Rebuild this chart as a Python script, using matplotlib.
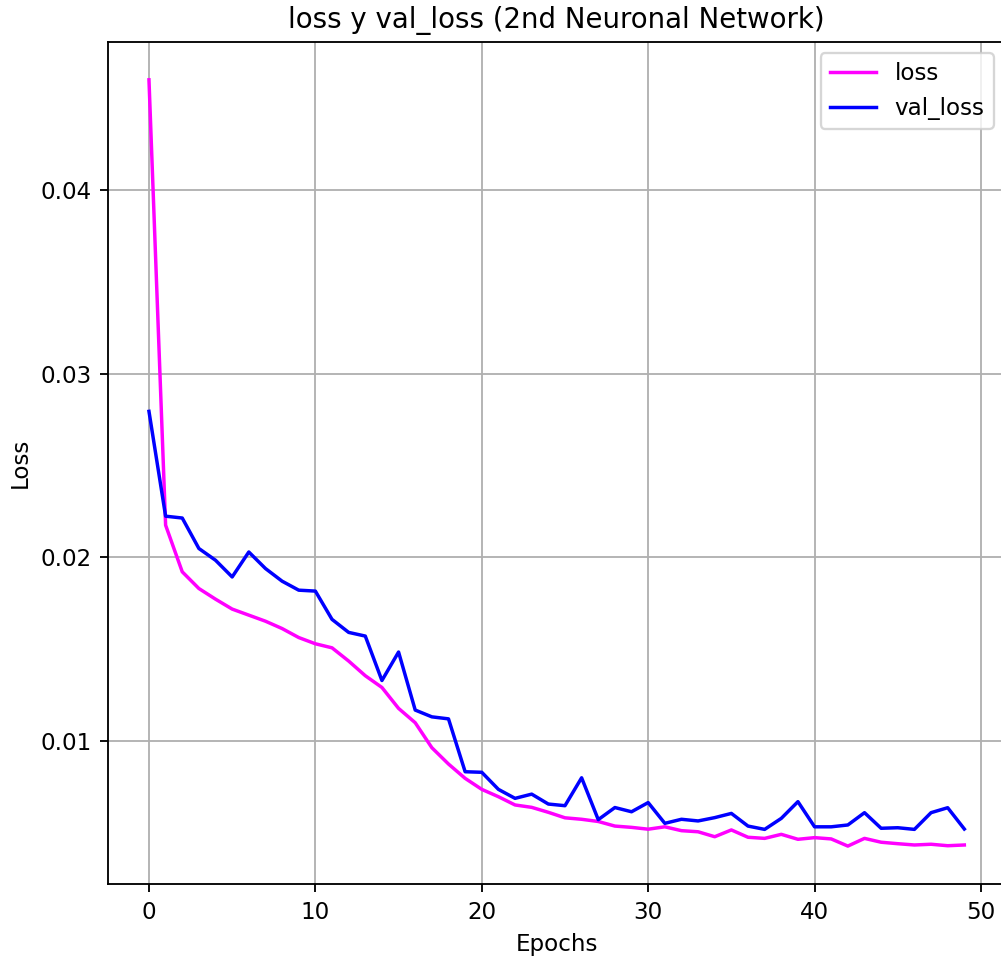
import matplotlib
matplotlib.use("Agg")
import matplotlib.pyplot as plt

epochs = list(range(50))

loss = [
    0.04602, 0.02176, 0.01922, 0.01831, 0.01773, 0.01719, 0.01686, 0.01653, 0.01613, 0.01564,
    0.01530, 0.01508, 0.01436, 0.01356, 0.01292, 0.01178, 0.01100, 0.00964, 0.00875, 0.00797,
    0.00737, 0.00697, 0.00652, 0.00639, 0.00612, 0.00582, 0.00574, 0.00562, 0.00537, 0.00530,
    0.00520, 0.00533, 0.00512, 0.00506, 0.00479, 0.00516, 0.00476, 0.00470, 0.00492, 0.00465,
    0.00474, 0.00467, 0.00428, 0.00470, 0.00449, 0.00441, 0.00434, 0.00438, 0.00430, 0.00434,
]

val_loss = [
    0.02796, 0.02225, 0.02215, 0.02049, 0.01985, 0.01894, 0.02030, 0.01940, 0.01871, 0.01822,
    0.01817, 0.01663, 0.01592, 0.01572, 0.01330, 0.01485, 0.01169, 0.01132, 0.01121, 0.00833,
    0.00830, 0.00737, 0.00688, 0.00711, 0.00657, 0.00648, 0.00800, 0.00572, 0.00638, 0.00615,
    0.00665, 0.00552, 0.00574, 0.00565, 0.00583, 0.00606, 0.00537, 0.00519, 0.00579, 0.00670,
    0.00533, 0.00533, 0.00543, 0.00610, 0.00525, 0.00528, 0.00519, 0.00610, 0.00637, 0.00521,
]

W, H, DPI = 1001, 958, 166
fig = plt.figure(figsize=(W / DPI, H / DPI), dpi=DPI)
ax = fig.add_axes([108.2 / W, (H - 884.4) / H, (1005.1 - 108.2) / W, (884.4 - 41.5) / H])

ax.plot(epochs, loss, color="#ff00ff", label="loss")
ax.plot(epochs, val_loss, color="#0000ff", label="val_loss")

ax.set_title("loss y val_loss (2nd Neuronal Network)", fontsize=12)
ax.set_xlabel("Epochs")
ax.set_ylabel("Loss")
ax.set_yticks([0.01, 0.02, 0.03, 0.04])
ax.grid(True)
ax.legend(loc="upper right")

fig.savefig("out.png", dpi=DPI)
